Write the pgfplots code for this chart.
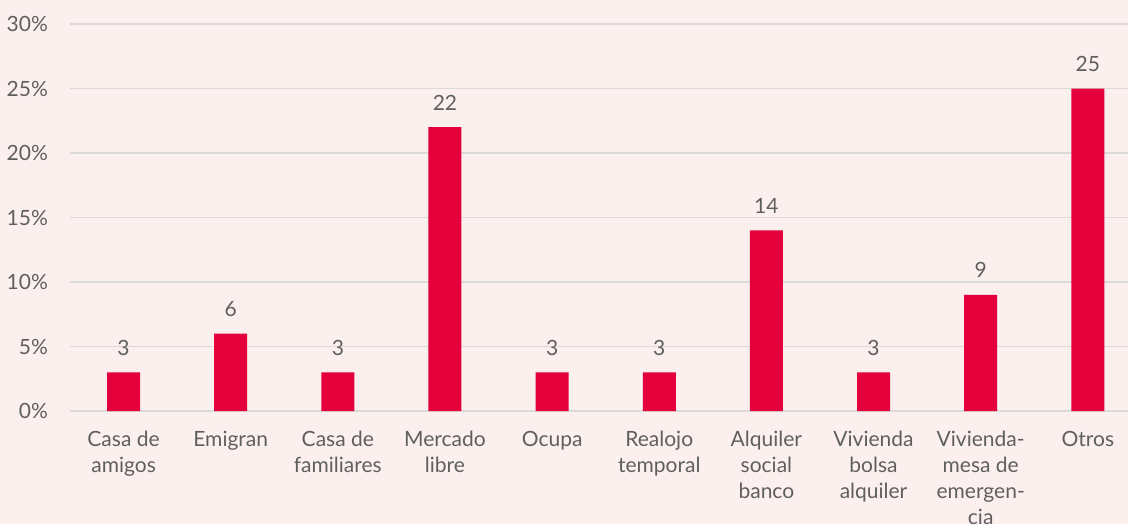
\documentclass[border=0pt]{standalone}
\usepackage{fontspec}
\setmainfont{Lato}
\usepackage{pgfplots}
\pgfplotsset{compat=1.18}
\definecolor{bg}{RGB}{252,240,239}
\definecolor{barc}{RGB}{228,0,58}
\definecolor{txt}{RGB}{95,95,95}
\definecolor{gridc}{RGB}{218,218,218}
\begin{document}
\begin{tikzpicture}
\path[use as bounding box, fill=bg] (-35pt,-56.5pt) rectangle (564pt-35pt,205.5pt);
\clip (-35pt,-56.5pt) rectangle (564pt-35pt,205.5pt);
\begin{axis}[
  at={(0,0)}, anchor=south west,
  scale only axis, width=529pt, height=193.5pt,
  ymin=0, ymax=30, xmin=-0.5, xmax=9.375,
  ytick={0,5,...,30},
  yticklabel={\pgfmathprintnumber{\tick}\%},
  /pgf/number format/assume math mode=true,
  xtick={0,...,9},
  xticklabels={{Casa de\\amigos},{Emigran},{Casa de\\familiares},{Mercado\\libre},{Ocupa},{Realojo\\temporal},{Alquiler\\social\\banco},{Vivienda\\bolsa\\alquiler},{Vivienda-\\mesa de\\emergen-\\cia},{Otros}},
  xticklabel style={align=center, font=\fontsize{10.5}{13}\selectfont, text=txt, anchor=north, yshift=-6.5pt},
  yticklabel style={font=\fontsize{10.5}{13}\selectfont, text=txt, xshift=-7.5pt},
  major tick length=0pt,
  ymajorgrids, grid style={gridc, line width=0.9pt},
  axis line style={draw=none},
  ybar, bar width=16.5pt,
  nodes near coords,
  every node near coord/.append style={font=\fontsize{10.5}{13}\selectfont, text=txt, anchor=base, inner sep=0pt, yshift=8.5pt},
  clip=false,
]
\addplot[fill=barc, draw=none] coordinates {(0,3) (1,6) (2,3) (3,22) (4,3) (5,3) (6,14) (7,3) (8,9) (9,25)};
\end{axis}
\end{tikzpicture}
\end{document}
